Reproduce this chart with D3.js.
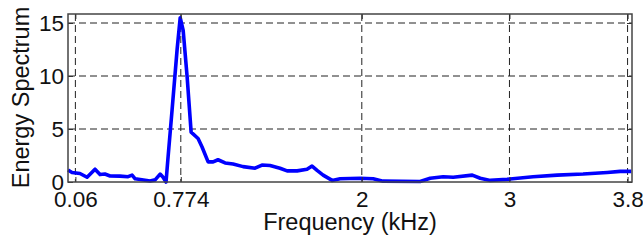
<!DOCTYPE html>
<html>
<head>
<meta charset="utf-8">
<script src="https://cdn.jsdelivr.net/npm/d3@7"></script>
<style>
  body { margin: 0; background: #fff; }
  svg { display: block; font-family: "Liberation Sans", Arial, sans-serif; }
</style>
</head>
<body>
<svg width="643" height="240"></svg>
<script>
// spectrum (kHz, energy)
const freq = [0.01, 0.037, 0.091, 0.139, 0.193, 0.227, 0.26, 0.295, 0.362, 0.417, 0.444, 0.465,
  0.566, 0.6, 0.634, 0.654, 0.674, 0.688, 0.715, 0.749, 0.77, 0.79, 0.817, 0.844, 0.891,
  0.918, 0.959, 0.993, 1.026, 1.074, 1.128, 1.196, 1.277, 1.324, 1.378, 1.446, 1.494, 1.562,
  1.629, 1.663, 1.697, 1.738, 1.799, 1.853, 1.988, 2.077, 2.144, 2.395, 2.463, 2.551, 2.619,
  2.748, 2.802, 2.87, 2.984, 3.16, 3.323, 3.499, 3.662, 3.75, 3.825];
const energy = [1.13, 0.9, 0.8, 0.45, 1.2, 0.7, 0.75, 0.57, 0.55, 0.5, 0.65, 0.3,
  0.1, 0.2, 0.75, 0.45, 0.0, 2.4, 6.8, 12.5, 15.5, 14.3, 9.9, 4.7, 4.1,
  3.3, 1.9, 1.9, 2.1, 1.8, 1.7, 1.45, 1.3, 1.6, 1.55, 1.3, 1.05, 1.05,
  1.2, 1.5, 1.1, 0.65, 0.15, 0.3, 0.35, 0.3, 0.08, 0.05, 0.35, 0.5, 0.45,
  0.65, 0.35, 0.15, 0.25, 0.5, 0.65, 0.75, 0.9, 1.0, 1.0];
const xTicks = [0.06, 0.774, 2, 3, 3.8];
const yTicks = [0, 5, 10, 15];

const margin = {top: 14, right: 11, bottom: 58, left: 68};
const width = 643 - margin.left - margin.right;
const height = 240 - margin.top - margin.bottom;

const svg = d3.select("svg");
const g = svg.append("g").attr("transform", `translate(${margin.left},${margin.top})`);

const x = d3.scaleLinear().domain([0.01, 3.83]).range([0, width]);
const y = d3.scaleLinear().domain([0, 15.85]).range([height, 0]);

// dashed grid
g.append("g")
  .attr("stroke", "#222")
  .attr("stroke-dasharray", "7,4")
  .selectAll("line.v")
  .data(xTicks)
  .join("line")
  .attr("x1", d => x(d)).attr("x2", d => x(d))
  .attr("y1", 0).attr("y2", height);

g.append("g")
  .attr("stroke", "#222")
  .attr("stroke-dasharray", "7,4")
  .selectAll("line.h")
  .data(yTicks.filter(d => d > 0))
  .join("line")
  .attr("x1", 0).attr("x2", width)
  .attr("y1", d => y(d)).attr("y2", d => y(d));

// curve
g.append("path")
  .datum(d3.zip(freq, energy))
  .attr("fill", "none")
  .attr("stroke", "#0000ff")
  .attr("stroke-width", 3.6)
  .attr("stroke-linejoin", "round")
  .attr("d", d3.line().x(d => x(d[0])).y(d => y(d[1])));

// axes, ticks pointing inward
const xAxis = g.append("g")
  .attr("transform", `translate(0,${height})`)
  .call(d3.axisBottom(x).tickValues(xTicks).tickFormat(d => d).tickSizeInner(-5).tickSizeOuter(0).tickPadding(9));
const xTop = g.append("g")
  .call(d3.axisTop(x).tickValues(xTicks).tickFormat("").tickSizeInner(-5).tickSizeOuter(0));
const yAxis = g.append("g")
  .call(d3.axisLeft(y).tickValues(yTicks).tickSizeInner(-5).tickSizeOuter(0).tickPadding(4));
const yRight = g.append("g")
  .attr("transform", `translate(${width},0)`)
  .call(d3.axisRight(y).tickValues(yTicks).tickFormat("").tickSizeInner(-5).tickSizeOuter(0));

[xAxis, xTop, yAxis, yRight].forEach(a => {
  a.select(".domain").remove();
  a.selectAll("line").attr("stroke", "#333");
  a.selectAll("text").attr("fill", "#111").attr("font-size", 22.5).attr("font-family", "Liberation Sans, Arial, sans-serif");
});
yAxis.selectAll("text").attr("dy", "0.34em");

// frame
g.append("rect")
  .attr("width", width).attr("height", height)
  .attr("fill", "none").attr("stroke", "#444").attr("stroke-width", 1.5);

svg.append("text")
  .attr("x", 350)
  .attr("y", 230)
  .attr("text-anchor", "middle")
  .attr("font-size", 23.5)
  .attr("fill", "#111")
  .text("Frequency (kHz)");

svg.append("text")
  .attr("transform", `translate(28.5,97.5) rotate(-90)`)
  .attr("text-anchor", "middle")
  .attr("font-size", 23.5)
  .attr("fill", "#111")
  .text("Energy Spectrum");
</script>
</body>
</html>
